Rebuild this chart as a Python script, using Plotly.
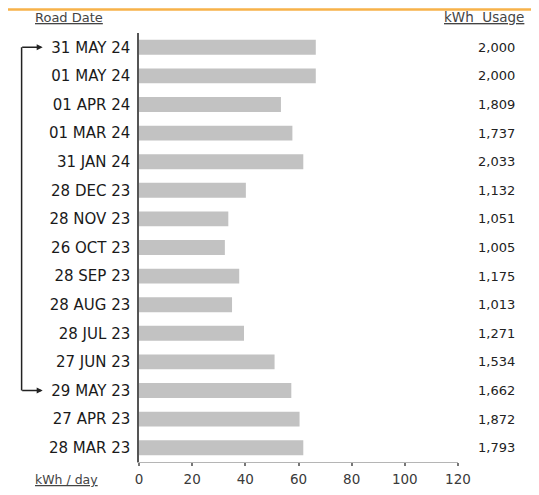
import plotly.graph_objects as go

dates = ["31 MAY 24", "01 MAY 24", "01 APR 24", "01 MAR 24", "31 JAN 24",
         "28 DEC 23", "28 NOV 23", "26 OCT 23", "28 SEP 23", "28 AUG 23",
         "28 JUL 23", "27 JUN 23", "29 MAY 23", "27 APR 23", "28 MAR 23"]
kwh_per_day = [66.5, 66.5, 53.4, 57.7, 61.8, 40.2, 33.6, 32.3, 37.7, 35.0,
               39.5, 51.0, 57.3, 60.4, 61.8]
kwh_usage = ["2,000", "2,000", "1,809", "1,737", "2,033", "1,132", "1,051", "1,005",
             "1,175", "1,013", "1,271", "1,534", "1,662", "1,872", "1,793"]
x_ticks = [0, 20, 40, 60, 80, 100, 120]
bracket_from = "31 MAY 24"
bracket_to = "29 MAY 23"

FONT = "DejaVu Sans, Verdana, sans-serif"

fig = go.Figure(go.Bar(
    x=kwh_per_day, y=dates, orientation="h",
    marker=dict(color="#c2c2c2", line=dict(width=0)),
    width=0.52, hoverinfo="skip",
))

fig.update_layout(
    width=539, height=495,
    margin=dict(l=131, r=89, t=25, b=41),
    paper_bgcolor="white", plot_bgcolor="white",
    showlegend=False,
    font=dict(family=FONT, color="#222"),
)
fig.update_xaxes(
    range=[0, 120], tickvals=x_ticks, showgrid=False, zeroline=False,
    showline=True, linecolor="#b5b5b5", linewidth=1,
    ticks="outside", ticklen=3, tickcolor="#777", tickwidth=1.5,
    tickfont=dict(size=13.5, color="#3a3a3a"), ticklabelstandoff=2,
)
fig.update_yaxes(
    type="category", categoryorder="array", categoryarray=dates,
    autorange=False, range=[14.5, -0.5],
    showgrid=False, zeroline=False,
    showline=True, linecolor="#555", linewidth=1.5,
    ticks="", ticklabelstandoff=4,
    tickfont=dict(size=15, color="#1a1a1a"),
)

# top orange rule
fig.add_shape(type="line", xref="paper", yref="paper",
              x0=-0.412, x1=1.234, y0=1.0548, y1=1.0548,
              line=dict(color="#f7b24a", width=2.5))

# headers
fig.add_annotation(text="<u>Road Date</u>", xref="paper", yref="paper",
                   x=-0.333, y=1.037, xanchor="left", yanchor="middle",
                   showarrow=False, font=dict(size=13, color="#444"))
fig.add_annotation(text="<u>kWh  Usage</u>", xref="paper", yref="paper",
                   x=1.212, y=1.037, xanchor="right", yanchor="middle",
                   showarrow=False, font=dict(size=13.5, color="#444"))
fig.add_annotation(text="<u>kWh / day</u>", xref="paper", yref="paper",
                   x=-0.333, y=-0.04, xanchor="left", yanchor="middle",
                   showarrow=False, font=dict(size=12.5, color="#444"))

# usage values column
for d, u in zip(dates, kwh_usage):
    fig.add_annotation(text=u, xref="paper", yref="y", x=1.184, y=d,
                       xanchor="right", yanchor="middle", showarrow=False,
                       font=dict(size=13, color="#222"))

# bracket connector with arrows
bx = -0.368
fig.add_shape(type="line", xref="paper", yref="y",
              x0=bx, x1=bx, y0=bracket_from, y1=bracket_to,
              line=dict(color="#222", width=1.5))
for d in (bracket_from, bracket_to):
    fig.add_annotation(text="", xref="paper", yref="y", x=-0.302, y=d,
                       ax=-22, ay=0, showarrow=True, arrowhead=2,
                       arrowsize=0.8, arrowwidth=1.5, arrowcolor="#222")

fig.write_html("out.html")
